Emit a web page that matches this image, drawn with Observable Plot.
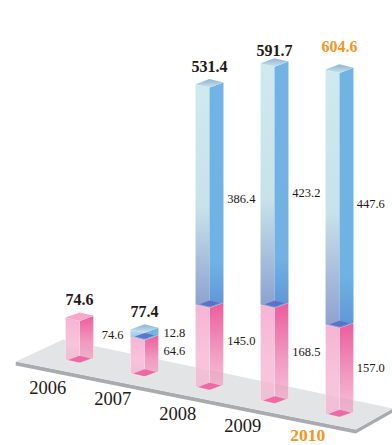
<!DOCTYPE html>
<html>
<head>
<meta charset="utf-8">
<script src="https://cdn.jsdelivr.net/npm/d3@7"></script>
<script src="https://cdn.jsdelivr.net/npm/@observablehq/plot@0.6"></script>
<style>
  html, body { margin: 0; padding: 0; background: #fff; }
  svg { display: block; }
</style>
</head>
<body>
<div id="chart"></div>
<script>
// Yearly amounts, stacked pink (lower) and blue (upper)
const years = [2006, 2007, 2008, 2009, 2010];
const lowerValues = [74.6, 64.6, 145.0, 168.5, 157.0];
const upperValues = [0, 12.8, 386.4, 423.2, 447.6];
const totals = [74.6, 77.4, 531.4, 591.7, 604.6];

// Small vertical nudges for the total and year captions, in amount units
const totalLift = [0, 0, 0, -9, 9];
const yearLift = [-5, 0, -2, 0, 7];

// Oblique projection: each later year sits further down the sloping floor
const floorDrop = 23.7;
const halfWidth = 0.215;
const riseLeft = 6, riseRight = 9, riseBack = 15;
const groundAt = (year) => -(year - 2006) * floorDrop;

const rows = years.map((year, i) => ({
  year,
  ground: groundAt(year),
  lower: lowerValues[i],
  upper: upperValues[i],
  total: totals[i],
  join: groundAt(year) + lowerValues[i],
  top: groundAt(year) + totals[i],
  totalY: groundAt(year) + totals[i] + totalLift[i],
  yearY: groundAt(year) + yearLift[i]
}));

// Floor slab outline, in (year, amount) coordinates
const floorTop = [
  {x: 2005.02, y: 3.5}, {x: 2005.75, y: 42}, {x: 2010.82, y: -79}, {x: 2010.25, y: -116}
];
const floorEdge = [
  {x: 2005.02, y: 3.5}, {x: 2010.25, y: -116}, {x: 2010.82, y: -79},
  {x: 2010.82, y: -86}, {x: 2010.25, y: -123}, {x: 2005.02, y: -3.5}
];

const leftFace = (year, a, b) => [
  {x: year - halfWidth, y: a + riseLeft}, {x: year, y: a},
  {x: year, y: b}, {x: year - halfWidth, y: b + riseLeft}
];
const rightFace = (year, a, b) => [
  {x: year, y: a}, {x: year + halfWidth, y: a + riseRight},
  {x: year + halfWidth, y: b + riseRight}, {x: year, y: b}
];
const rhombus = (year, level, k = 1) => {
  const cy = level + riseBack / 2;
  return [
    {x: year, y: cy - k * riseBack / 2},
    {x: year - k * halfWidth, y: cy + k * (riseLeft - riseBack / 2)},
    {x: year, y: cy + k * riseBack / 2},
    {x: year + k * halfWidth, y: cy + k * (riseRight - riseBack / 2)}
  ];
};

const polygon = (points, fill, extra = {}) =>
  Plot.line([...points, points[0]], {x: "x", y: "y", fill, stroke: "none", ...extra});

const glassEdge = {stroke: "#fff", strokeOpacity: 0.4, strokeWidth: 0.7};

const barMarks = rows.flatMap((d) => {
  const marks = [
    polygon(leftFace(d.year, d.ground, d.join), "url(#pinkLeft)", glassEdge),
    polygon(rightFace(d.year, d.ground, d.join), "url(#pinkRight)", glassEdge),
    polygon(rhombus(d.year, d.ground, 0.8), "#ee5f9e", {fillOpacity: 0.9})
  ];
  if (d.upper > 0) {
    const tall = d.upper > 100;
    marks.push(
      polygon(leftFace(d.year, d.join, d.top), tall ? "url(#blueLeft)" : "url(#blueLeftShort)"),
      polygon(rightFace(d.year, d.join, d.top), tall ? "url(#blueRight)" : "#6fb6e4"),
      polygon(rhombus(d.year, d.join, 0.7), "#5c6cc0", {fillOpacity: 0.9}),
      polygon(rhombus(d.year, d.top), "url(#blueCap)")
    );
  } else {
    marks.push(polygon(rhombus(d.year, d.top), "#f6a8c8"));
  }
  return marks;
});

// Value labels beside the segments; offset moves them right of the bar in years
const segmentLabels = [
  {year: 2006, value: 74.6, at: 50, offset: 0.51},
  {year: 2007, value: 12.8, at: rows[1].top - 0, offset: 0.46},
  {year: 2007, value: 64.6, at: rows[1].ground + 46, offset: 0.46},
  {year: 2008, value: 386.4, at: rows[2].join + 191, offset: 0.49},
  {year: 2008, value: 145.0, at: rows[2].ground + 86, offset: 0.49},
  {year: 2009, value: 423.2, at: rows[3].join + 202, offset: 0.49},
  {year: 2009, value: 168.5, at: rows[3].ground + 91, offset: 0.49},
  {year: 2010, value: 447.6, at: rows[4].join + 217, offset: 0.48},
  {year: 2010, value: 157.0, at: rows[4].ground + 87, offset: 0.48}
];

const orange = "#f7941d";
const dark = "#231815";
const colorOf = (d) => (d.year === 2010 ? orange : dark);
const serif = "'Liberation Serif', 'Times New Roman', serif";
const yearCaption = {
  x: (d) => d.year - 0.49,
  y: "yearY",
  text: (d) => String(d.year),
  dy: 22,
  fontFamily: serif
};

const chart = Plot.plot({
  width: 392,
  height: 445,
  margin: 0,
  x: {domain: [2004.785, 2010.815], range: [0, 392], axis: null},
  y: {domain: [-143.9, 636.8], range: [445, 0], axis: null},
  style: {background: "transparent"},
  marks: [
    polygon(floorEdge, "#a9abae"),
    polygon(floorTop, "#e3e4e6"),
    ...barMarks,
    Plot.text(rows, {
      x: "year",
      y: "totalY",
      text: (d) => d.total.toFixed(1),
      dy: -21,
      fontFamily: serif,
      fontWeight: "bold",
      fontSize: 16,
      fill: colorOf
    }),
    Plot.text(segmentLabels, {
      x: (d) => d.year + d.offset,
      y: "at",
      text: (d) => d.value.toFixed(1),
      fontFamily: serif,
      fontSize: 12.5,
      fill: dark
    }),
    Plot.text(rows.filter((d) => d.year !== 2010), {
      ...yearCaption,
      fontSize: 18.5,
      fill: dark
    }),
    // The latest year is emphasised
    Plot.text(rows.filter((d) => d.year === 2010), {
      ...yearCaption,
      fontWeight: "bold",
      fontSize: 17.5,
      fill: orange
    })
  ]
});

// Gradients used by the glass bar faces
const gradients = {
  pinkLeft: [["0%", "#f6b4d2", 1], ["60%", "#f8c4dc", 1], ["100%", "#f4a6c8", 0.55]],
  pinkRight: [["0%", "#ec5c9c", 1], ["55%", "#f19ac0", 1], ["100%", "#f28fba", 0.5]],
  blueLeft: [["0%", "#cfe9ee", 1], ["55%", "#c9e2ea", 1], ["100%", "#8d9fd0", 1]],
  blueLeftShort: [["0%", "#bde4f0", 1], ["100%", "#8fb8e0", 1]],
  blueRight: [["0%", "#71b4e4", 1], ["80%", "#6fb2e3", 1], ["100%", "#5f95d6", 1]],
  blueCap: [["0%", "#8fb2d8", 1], ["100%", "#c8e4ec", 1]]
};
const defs = d3.select(chart).insert("defs", ":first-child");
for (const [id, stops] of Object.entries(gradients)) {
  const g = defs.append("linearGradient").attr("id", id)
    .attr("x1", 0).attr("y1", 0).attr("x2", 0).attr("y2", 1);
  for (const [offset, color, opacity] of stops) {
    g.append("stop").attr("offset", offset)
      .attr("stop-color", color).attr("stop-opacity", opacity);
  }
}

document.getElementById("chart").append(chart);
</script>
</body>
</html>
